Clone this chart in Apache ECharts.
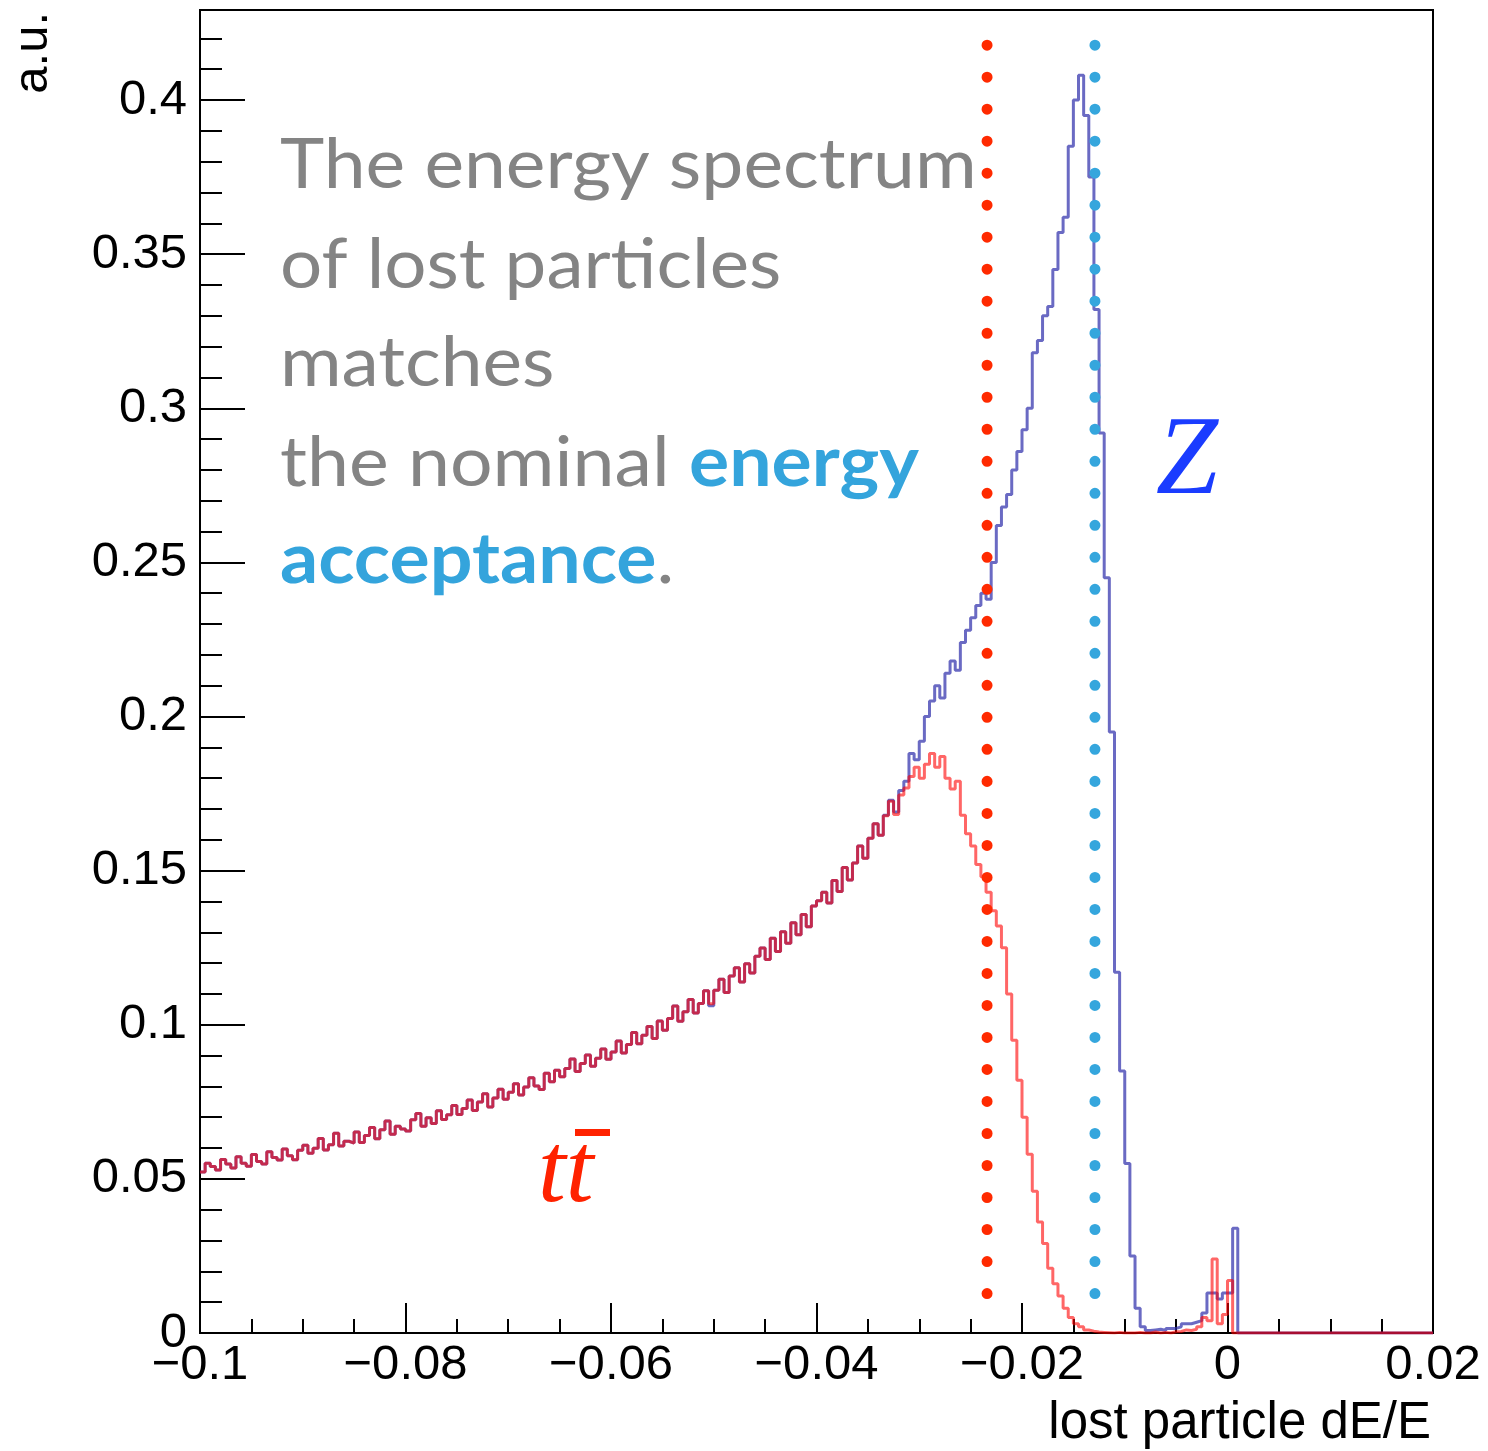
<!DOCTYPE html>
<html>
<head>
<meta charset="utf-8">
<script src="https://cdn.jsdelivr.net/npm/echarts@6/dist/echarts.min.js"></script>
<style>
html,body{margin:0;padding:0;background:#fff;}
#chart{width:1488px;height:1451px;}
</style>
</head>
<body>
<div id="chart"></div>
<script>
// Histogram binning (lost particle dE/E)
const binStart = -0.1;
const binWidth = 0.0005;
const xRange = [-0.1, 0.02];
const yRange = [0, 0.4292];

// ttbar histogram contents (a.u.), 240 bins from -0.1 to 0.02
const ttbarValues = [
  0.0522, 0.0551, 0.0540, 0.0529, 0.0563, 0.0548, 0.0535, 0.0572, 0.0551, 0.0541,
  0.0579, 0.0556, 0.0548, 0.0588, 0.0569, 0.0561, 0.0597, 0.0575, 0.0562, 0.0593,
  0.0609, 0.0583, 0.0599, 0.0631, 0.0594, 0.0611, 0.0648, 0.0607, 0.0622, 0.0616,
  0.0652, 0.0618, 0.0641, 0.0667, 0.0630, 0.0659, 0.0688, 0.0645, 0.0671, 0.0662,
  0.0655, 0.0692, 0.0712, 0.0671, 0.0698, 0.0680, 0.0721, 0.0693, 0.0708, 0.0738,
  0.0709, 0.0728, 0.0756, 0.0722, 0.0749, 0.0776, 0.0733, 0.0762, 0.0791, 0.0758,
  0.0781, 0.0809, 0.0772, 0.0798, 0.0828, 0.0801, 0.0790, 0.0843, 0.0815, 0.0852,
  0.0831, 0.0858, 0.0889, 0.0848, 0.0874, 0.0902, 0.0865, 0.0891, 0.0921, 0.0888,
  0.0912, 0.0947, 0.0908, 0.0936, 0.0975, 0.0938, 0.0966, 0.0994, 0.0955, 0.1012,
  0.0982, 0.1020, 0.1061, 0.1011, 0.1042, 0.1082, 0.1038, 0.1069, 0.1110, 0.1068,
  0.1112, 0.1148, 0.1105, 0.1158, 0.1185, 0.1139, 0.1198, 0.1168, 0.1222, 0.1249,
  0.1212, 0.1281, 0.1238, 0.1302, 0.1264, 0.1331, 0.1292, 0.1358, 0.1318, 0.1385,
  0.1402, 0.1430, 0.1395, 0.1468, 0.1432, 0.1510, 0.1470, 0.1525, 0.1580, 0.1540,
  0.1605, 0.1652, 0.1615, 0.1678, 0.1725, 0.1682, 0.1745, 0.1768, 0.1805, 0.1835,
  0.1800, 0.1845, 0.1880, 0.1835, 0.1870, 0.1800, 0.1765, 0.1790, 0.1680, 0.1620,
  0.1580, 0.1520, 0.1480, 0.1430, 0.1370, 0.1320, 0.1250, 0.1100, 0.0950, 0.0820,
  0.0700, 0.0580, 0.0460, 0.0360, 0.0290, 0.0210, 0.0160, 0.0120, 0.0080, 0.0050,
  0.0030, 0.0020, 0.0010, 0.0006, 0.0003, 0.0002, 0.0001, 0.0000, 0.0002, 0.0000,
  0.0000, 0.0000, 0.0002, 0.0000, 0.0000, 0.0003, 0.0000, 0.0002, 0.0000, 0.0004,
  0.0005, 0.0010, 0.0008, 0.0012, 0.0020, 0.0050, 0.0040, 0.0240, 0.0030, 0.0060,
  0.0170, 0, 0, 0, 0, 0, 0, 0, 0, 0,
  0, 0, 0, 0, 0, 0, 0, 0, 0, 0,
  0, 0, 0, 0, 0, 0, 0, 0, 0, 0,
  0, 0, 0, 0, 0, 0, 0, 0, 0, 0
];

// Z histogram contents (a.u.), same binning
const zValues = [
  0.0522, 0.0551, 0.0540, 0.0529, 0.0563, 0.0548, 0.0535, 0.0572, 0.0551, 0.0541,
  0.0579, 0.0556, 0.0548, 0.0588, 0.0569, 0.0561, 0.0597, 0.0575, 0.0562, 0.0593,
  0.0609, 0.0583, 0.0599, 0.0631, 0.0594, 0.0611, 0.0648, 0.0607, 0.0622, 0.0616,
  0.0652, 0.0618, 0.0641, 0.0667, 0.0630, 0.0659, 0.0688, 0.0645, 0.0671, 0.0662,
  0.0655, 0.0692, 0.0712, 0.0671, 0.0698, 0.0680, 0.0721, 0.0693, 0.0708, 0.0738,
  0.0709, 0.0728, 0.0756, 0.0722, 0.0749, 0.0776, 0.0733, 0.0762, 0.0791, 0.0758,
  0.0781, 0.0809, 0.0772, 0.0798, 0.0828, 0.0801, 0.0790, 0.0843, 0.0815, 0.0852,
  0.0831, 0.0858, 0.0889, 0.0848, 0.0874, 0.0902, 0.0865, 0.0891, 0.0921, 0.0888,
  0.0912, 0.0947, 0.0908, 0.0936, 0.0975, 0.0938, 0.0966, 0.0994, 0.0955, 0.1012,
  0.0982, 0.1020, 0.1061, 0.1011, 0.1042, 0.1082, 0.1038, 0.1069, 0.1110, 0.1062,
  0.1112, 0.1148, 0.1105, 0.1158, 0.1185, 0.1139, 0.1198, 0.1168, 0.1222, 0.1249,
  0.1212, 0.1281, 0.1238, 0.1302, 0.1264, 0.1331, 0.1292, 0.1358, 0.1318, 0.1385,
  0.1402, 0.1430, 0.1395, 0.1468, 0.1432, 0.1510, 0.1470, 0.1525, 0.1580, 0.1540,
  0.1605, 0.1652, 0.1615, 0.1680, 0.1728, 0.1690, 0.1760, 0.1790, 0.1880, 0.1860,
  0.1920, 0.2000, 0.2050, 0.2100, 0.2060, 0.2140, 0.2180, 0.2150, 0.2240, 0.2280,
  0.2320, 0.2360, 0.2400, 0.2380, 0.2500, 0.2620, 0.2680, 0.2720, 0.2800, 0.2860,
  0.2930, 0.3000, 0.3180, 0.3220, 0.3300, 0.3330, 0.3450, 0.3570, 0.3620, 0.3850,
  0.4000, 0.4080, 0.3950, 0.3750, 0.3320, 0.2920, 0.2450, 0.1950, 0.1170, 0.0850,
  0.0550, 0.0250, 0.0080, 0.0020, 0.0008, 0.0010, 0.0012, 0.0008, 0.0015, 0.0015,
  0.0020, 0.0030, 0.0030, 0.0035, 0.0040, 0.0065, 0.0130, 0.0130, 0.0110, 0.0130,
  0.0130, 0.0340, 0, 0, 0, 0, 0, 0, 0, 0,
  0, 0, 0, 0, 0, 0, 0, 0, 0, 0,
  0, 0, 0, 0, 0, 0, 0, 0, 0, 0,
  0, 0, 0, 0, 0, 0, 0, 0, 0, 0
];

// nominal energy acceptance markers (dE/E) and their vertical extent (a.u.)
const acceptanceCuts = [-0.0234, -0.0129];
const cutSpan = [0.4178, 0.0026];

// tick labels
const xTickValues = [-0.1, -0.08, -0.06, -0.04, -0.02, 0, 0.02];
const yTickValues = [0, 0.05, 0.1, 0.15, 0.2, 0.25, 0.3, 0.35, 0.4];

function histPoints(values) {
  const pts = values.map((v, i) => [binStart + i * binWidth, v]);
  pts.push([binStart + values.length * binWidth, values[values.length - 1]]);
  return pts;
}

function fmtNum(v) {
  const s = parseFloat(Math.abs(v).toFixed(3)).toString();
  return v < -1e-9 ? '\u2212' + s : s;
}

const chart = echarts.init(document.getElementById('chart'), null, {renderer: 'canvas'});

const axisFont = '"Liberation Sans", Arial, Helvetica, sans-serif';
const blackLine = {color: '#000', width: 2};
const textFont = '70px Lato, "Open Sans", sans-serif';
const textBold = 'bold 70px Lato, "Open Sans", sans-serif';
const grey = '#848484';
const accent = '#34a4dc';

const option = {
  animation: false,
  backgroundColor: '#fff',
  grid: {
    left: 200, top: 10, width: 1233, height: 1323,
    show: true, borderColor: '#000', borderWidth: 2, backgroundColor: 'transparent'
  },
  xAxis: {
    type: 'value', min: xRange[0], max: xRange[1], interval: 0.02,
    axisLine: {show: true, onZero: false, lineStyle: blackLine},
    axisTick: {show: true, inside: true, length: 30, lineStyle: blackLine},
    minorTick: {show: true, splitNumber: 4, length: 14, lineStyle: blackLine},
    splitLine: {show: false},
    axisLabel: {
      color: '#000', fontFamily: axisFont, fontSize: 49, margin: 8,
      formatter: v => (xTickValues.some(t => Math.abs(t - v) < 1e-9) ? fmtNum(v) : '')
    }
  },
  yAxis: {
    type: 'value', min: yRange[0], max: yRange[1], interval: 0.05,
    axisLine: {show: true, onZero: false, lineStyle: blackLine},
    axisTick: {show: true, inside: true, length: 45, lineStyle: blackLine},
    minorTick: {show: true, splitNumber: 5, length: 22, lineStyle: blackLine},
    splitLine: {show: false},
    axisLabel: {
      color: '#000', fontFamily: axisFont, fontSize: 49, margin: 13,
      showMaxLabel: false,
      formatter: v => (yTickValues.some(t => Math.abs(t - v) < 1e-9) ? fmtNum(v) : '')
    }
  },
  series: [
    {
      name: 'Z', type: 'line', step: 'end', symbol: 'none', z: 2,
      data: histPoints(zValues),
      lineStyle: {color: 'rgba(48,48,172,0.72)', width: 3}
    },
    {
      name: 'ttbar', type: 'line', step: 'end', symbol: 'none', z: 3,
      data: histPoints(ttbarValues),
      lineStyle: {color: 'rgba(255,0,0,0.6)', width: 3}
    },
    {
      name: 'cut ttbar', type: 'line', symbol: 'none', z: 4,
      data: [[acceptanceCuts[0], cutSpan[0]], [acceptanceCuts[0], cutSpan[1]]],
      lineStyle: {color: '#ff2a00', width: 11, type: [0.01, 32], cap: 'round'}
    },
    {
      name: 'cut Z', type: 'line', symbol: 'none', z: 4,
      data: [[acceptanceCuts[1], cutSpan[0]], [acceptanceCuts[1], cutSpan[1]]],
      lineStyle: {color: '#35a6dd', width: 11, type: [0.01, 32], cap: 'round'}
    }
  ],
  graphic: [
    {type: 'text', x: 280, y: 165, scaleX: 1.072, z: 10, style: {
      text: 'The energy spectrum', font: textFont,
      fill: grey, align: 'left', verticalAlign: 'middle'}},
    {type: 'text', x: 280, y: 265, scaleX: 1.065, z: 10, style: {
      text: 'of lost particles', font: textFont,
      fill: grey, align: 'left', verticalAlign: 'middle'}},
    {type: 'text', x: 280, y: 363, scaleX: 1.07, z: 10, style: {
      text: 'matches', font: textFont,
      fill: grey, align: 'left', verticalAlign: 'middle'}},
    {type: 'text', x: 280, y: 463, scaleX: 1.075, z: 10, style: {
      text: '{g|the nominal }{b|energy}',
      align: 'left', verticalAlign: 'middle',
      rich: {
        g: {font: textFont, fill: grey},
        b: {font: textBold, fill: accent}
      }}},
    {type: 'text', x: 280, y: 560, scaleX: 1.076, z: 10, style: {
      text: '{b|acceptance}{g|.}',
      align: 'left', verticalAlign: 'middle',
      rich: {
        g: {font: textFont, fill: grey},
        b: {font: textBold, fill: accent}
      }}},
    {type: 'text', x: 1187, y: 464, z: 10, style: {
      text: 'Z', font: 'italic 112px "Liberation Serif", "DejaVu Serif", serif',
      fill: '#1a3cff', align: 'center', verticalAlign: 'middle'}},
    {type: 'text', x: 538, y: 1175, z: 10, style: {
      text: 'tt', font: 'italic 100px "Liberation Serif", "DejaVu Serif", serif',
      fill: '#ff2200', align: 'left', verticalAlign: 'middle'}},
    {type: 'rect', z: 10, shape: {x: 575, y: 1129, width: 35, height: 7},
      style: {fill: '#ff2200'}},
    {type: 'text', x: 1431, y: 1424, z: 10, style: {
      text: 'lost particle dE/E', font: '51px "Liberation Sans", Arial, sans-serif',
      fill: '#000', align: 'right', verticalAlign: 'middle'}},
    {type: 'text', x: 33, y: 12, rotation: Math.PI / 2, z: 10, style: {
      text: 'a.u.', font: '49px "Liberation Sans", Arial, sans-serif',
      fill: '#000', align: 'right', verticalAlign: 'middle'}}
  ]
};

chart.setOption(option);
</script>
</body>
</html>
